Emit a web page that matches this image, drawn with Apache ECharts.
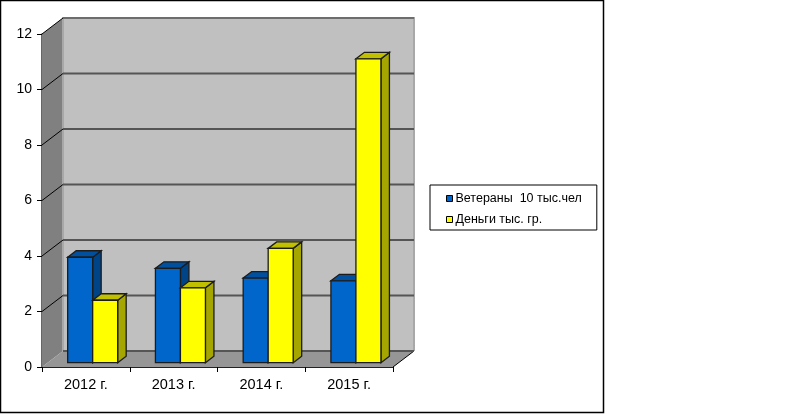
<!DOCTYPE html>
<html>
<head>
<meta charset="utf-8">
<script src="https://cdn.jsdelivr.net/npm/echarts@6/dist/echarts.min.js"></script>
<style>
  html, body { margin: 0; padding: 0; background: #fff; }
  #chart { width: 800px; height: 414px; }
</style>
</head>
<body>
<div id="chart"></div>
<script>
var categories = ['2012 г.', '2013 г.', '2014 г.', '2015 г.'];
var veterans = [3.8, 3.4, 3.05, 2.95];
var money = [2.25, 2.7, 4.12, 10.95];
var yTicks = [0, 2, 4, 6, 8, 10, 12];
var veteransName = 'Ветераны  10 тыс.чел';
var moneyName = 'Деньги тыс. гр.';

var chart = echarts.init(document.getElementById('chart'));

// depth of the fake 3d box and of the bars, in px
var wallDx = 21, wallDy = -16;
var barDx = 8.5, barDy = -6.5;
var barInsetX = 6.8, barInsetY = -4.3;
var barWidth = 25;

function renderWalls(params, api) {
  var v = api.value(0);
  var cs = params.coordSys;
  var x0 = cs.x, x1 = cs.x + cs.width;
  var y0 = cs.y + cs.height, y1 = cs.y;
  var y = api.coord([0, v])[1];
  var children = [];
  if (params.dataIndex === 0) {
    children.push({
      type: 'polygon',
      shape: { points: [[x0 + wallDx, y1 + wallDy], [x1 + wallDx, y1 + wallDy], [x1 + wallDx, y0 + wallDy], [x0 + wallDx, y0 + wallDy]] },
      style: { fill: '#c0c0c0', stroke: null }
    });
    children.push({
      type: 'polygon',
      shape: { points: [[x0, y1], [x0 + wallDx, y1 + wallDy], [x0 + wallDx, y0 + wallDy], [x0, y0]] },
      style: { fill: '#808080', stroke: null }
    });
    children.push({
      type: 'polygon',
      shape: { points: [[x0, y0], [x0 + wallDx, y0 + wallDy], [x1 + wallDx, y0 + wallDy], [x1, y0]] },
      style: { fill: '#969696', stroke: null }
    });
    children.push({
      type: 'polyline',
      shape: { points: [[x0 + wallDx, y0 + wallDy], [x0 + wallDx, y1 + wallDy], [x1 + wallDx, y1 + wallDy], [x1 + wallDx, y0 + wallDy]] },
      style: { fill: null, stroke: '#a8a8a8', lineWidth: 2 }
    });
    children.push({
      type: 'line',
      shape: { x1: x1, y1: y0, x2: x1 + wallDx, y2: y0 + wallDy },
      style: { stroke: '#000', lineWidth: 1 }
    });
  }
  // grid line on the side wall and on the back wall
  if (v > 0) {
    children.push({
      type: 'line',
      shape: { x1: x0, y1: y, x2: x0 + wallDx, y2: y + wallDy },
      style: { stroke: '#000', lineWidth: 1 }
    });
  }
  children.push({
    type: 'line',
    shape: { x1: x0 + wallDx, y1: y + wallDy, x2: x1 + wallDx, y2: y + wallDy },
    style: { stroke: v === 12 ? '#333' : '#555', lineWidth: v === 12 ? 1 : 2 }
  });
  return { type: 'group', children: children };
}

function barRenderer(offset, front, top, side) {
  return function (params, api) {
    var p0 = api.coord([api.value(0), 0]);
    var p1 = api.coord([api.value(0), api.value(1)]);
    var xl = p0[0] + barInsetX + offset * barWidth;
    var xr = xl + barWidth;
    var yb = p0[1] + barInsetY;
    var yt = p1[1] + barInsetY;
    var edge = { stroke: '#1c1c1c', lineWidth: 1.3 };
    return {
      type: 'group',
      children: [
        {
          type: 'polygon',
          shape: { points: [[xr, yb], [xr + barDx, yb + barDy], [xr + barDx, yt + barDy], [xr, yt]] },
          style: { fill: side, stroke: edge.stroke, lineWidth: edge.lineWidth }
        },
        {
          type: 'polygon',
          shape: { points: [[xl, yt], [xl + barDx, yt + barDy], [xr + barDx, yt + barDy], [xr, yt]] },
          style: { fill: top, stroke: edge.stroke, lineWidth: edge.lineWidth }
        },
        {
          type: 'rect',
          shape: { x: xl, y: yt, width: barWidth, height: yb - yt },
          style: { fill: front, stroke: edge.stroke, lineWidth: edge.lineWidth }
        }
      ]
    };
  };
}

function toPoints(values) {
  return values.map(function (v, i) { return [i, v]; });
}

var option = {
  animation: false,
  backgroundColor: '#ffffff',
  textStyle: { fontFamily: '"Liberation Sans", Arial, sans-serif', color: '#000' },
  graphic: [{
    type: 'rect',
    silent: true,
    z: -10,
    shape: { x: 0.5, y: 0.5, width: 603, height: 412 },
    style: { fill: '#fff', stroke: '#000', lineWidth: 1.5 }
  }],
  legend: {
    orient: 'vertical',
    left: 430,
    top: 185,
    padding: [7, 15, 4, 16],
    itemGap: 8,
    itemWidth: 6,
    itemHeight: 6,
    borderColor: '#000',
    borderWidth: 1,
    icon: 'rect',
    data: [veteransName, moneyName],
    itemStyle: { borderColor: '#000', borderWidth: 1 },
    textStyle: { fontSize: 12.5, color: '#000', padding: [0, 0, 0, -2], fontFamily: '"Liberation Sans", Arial, sans-serif' }
  },
  grid: { left: 42, right: 407, top: 34, bottom: 47 },
  xAxis: {
    type: 'category',
    data: categories,
    boundaryGap: true,
    axisLine: { lineStyle: { color: '#222', width: 1 } },
    axisTick: { show: true, alignWithLabel: false, length: 5, lineStyle: { color: '#000' } },
    axisLabel: { fontSize: 14.5, color: '#000', margin: 10 }
  },
  yAxis: {
    type: 'value',
    min: 0,
    max: 12,
    interval: 2,
    axisLine: { show: true, lineStyle: { color: '#333', width: 1.5 } },
    axisTick: { show: true, length: 5, lineStyle: { color: '#000' } },
    axisLabel: { fontSize: 14, color: '#000', margin: 10 },
    splitLine: { show: false }
  },
  series: [
    {
      type: 'custom',
      name: 'walls',
      silent: true,
      z: 1,
      renderItem: renderWalls,
      data: yTicks.map(function (v) { return [v]; }),
      encode: { y: 0 }
    },
    {
      type: 'custom',
      name: veteransName,
      z: 2,
      itemStyle: { color: '#0066cc' },
      renderItem: barRenderer(-1, '#0066cc', '#00509f', '#004488'),
      data: toPoints(veterans),
      encode: { x: 0, y: 1 }
    },
    {
      type: 'custom',
      name: moneyName,
      z: 3,
      itemStyle: { color: '#ffff00' },
      renderItem: barRenderer(0, '#ffff00', '#c0c000', '#a6a600'),
      data: toPoints(money),
      encode: { x: 0, y: 1 }
    }
  ]
};
chart.setOption(option);
</script>
</body>
</html>
